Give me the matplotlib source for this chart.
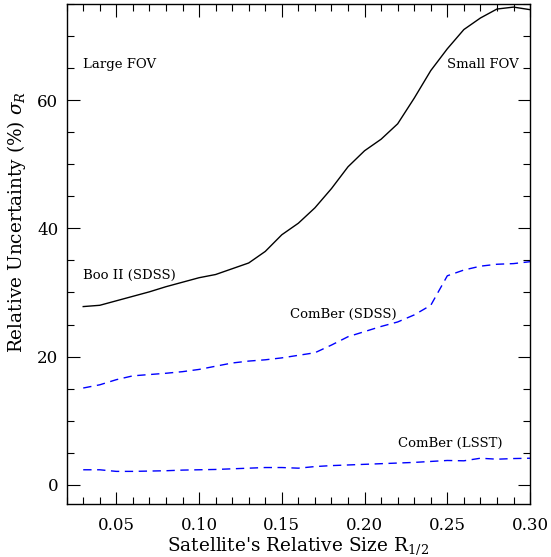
import matplotlib
matplotlib.use('Agg')
import matplotlib.pyplot as plt
from matplotlib.ticker import MultipleLocator

plt.rcParams['font.family'] = 'DejaVu Serif'
plt.rcParams['mathtext.fontset'] = 'dejavuserif'

# Values
size = [0.03, 0.04, 0.05, 0.06, 0.07, 0.08, 0.09, 0.10, 0.11, 0.12, 0.13, 0.14,
        0.15, 0.16, 0.17, 0.18, 0.19, 0.20, 0.21, 0.22, 0.23, 0.24, 0.25, 0.26,
        0.27, 0.28, 0.29, 0.30]
boo_sdss = [27.8, 28.0, 28.7, 29.4, 30.1, 30.9, 31.6, 32.3, 32.8, 33.7, 34.6, 36.4,
            39.0, 40.8, 43.2, 46.2, 49.6, 52.1, 53.9, 56.3, 60.3, 64.6, 68.0, 71.0,
            72.8, 74.2, 74.5, 74.1]
comber_sdss = [15.1, 15.6, 16.4, 17.0, 17.2, 17.4, 17.65, 18.0, 18.5, 19.0, 19.3, 19.5,
               19.8, 20.2, 20.6, 21.8, 23.1, 23.9, 24.7, 25.4, 26.5, 28.0, 32.6, 33.5,
               34.1, 34.4, 34.5, 34.8]
comber_lsst = [2.35, 2.35, 2.1, 2.1, 2.15, 2.2, 2.3, 2.35, 2.4, 2.5, 2.6, 2.7,
               2.7, 2.6, 2.85, 3.0, 3.1, 3.2, 3.3, 3.4, 3.5, 3.65, 3.8, 3.75,
               4.15, 4.0, 4.1, 4.15]

fig = plt.figure(figsize=(5.51, 5.57), dpi=100)
ax = fig.add_axes([0.121, 0.095, 0.841, 0.898])

ax.plot(size, boo_sdss, color='black', lw=1.0)
ax.plot(size, comber_sdss, color='#0000ff', lw=1.0, dashes=(6, 4))
ax.plot(size, comber_lsst, color='#0000ff', lw=1.0, dashes=(6, 4))

ax.set_xlim(0.02, 0.30)
ax.set_ylim(-3, 75)
ax.xaxis.set_minor_locator(MultipleLocator(0.01))
ax.yaxis.set_major_locator(MultipleLocator(20))
ax.yaxis.set_minor_locator(MultipleLocator(5))
ax.set_xticks([0.05, 0.10, 0.15, 0.20, 0.25, 0.30])
ax.set_xticklabels(['0.05', '0.10', '0.15', '0.20', '0.25', '0.30'])
ax.tick_params(which='both', direction='in', top=True, right=True, labelsize=12, width=0.8)
ax.tick_params(which='major', length=9)
ax.tick_params(axis='x', which='major', pad=9)
ax.tick_params(axis='y', which='major', pad=6)
ax.tick_params(which='minor', length=5)
for s in ax.spines.values():
    s.set_linewidth(1.0)

ax.set_xlabel("Satellite's Relative Size R$_{1/2}$", fontsize=13.3, labelpad=1)
ax.set_ylabel("Relative Uncertainty (%) $\\sigma_R$", fontsize=13.3)
ax.yaxis.set_label_coords(-0.084, 0.564)

ann = dict(fontsize=9.5, va='center', ha='left')
ax.text(0.03, 65.6, 'Large FOV', **ann)
ax.text(0.25, 65.6, 'Small FOV', **ann)
ax.text(0.03, 32.7, 'Boo II (SDSS)', **ann)
ax.text(0.155, 26.6, 'ComBer (SDSS)', **ann)
ax.text(0.22, 6.5, 'ComBer (LSST)', **ann)

fig.savefig('out.png', dpi=100)
